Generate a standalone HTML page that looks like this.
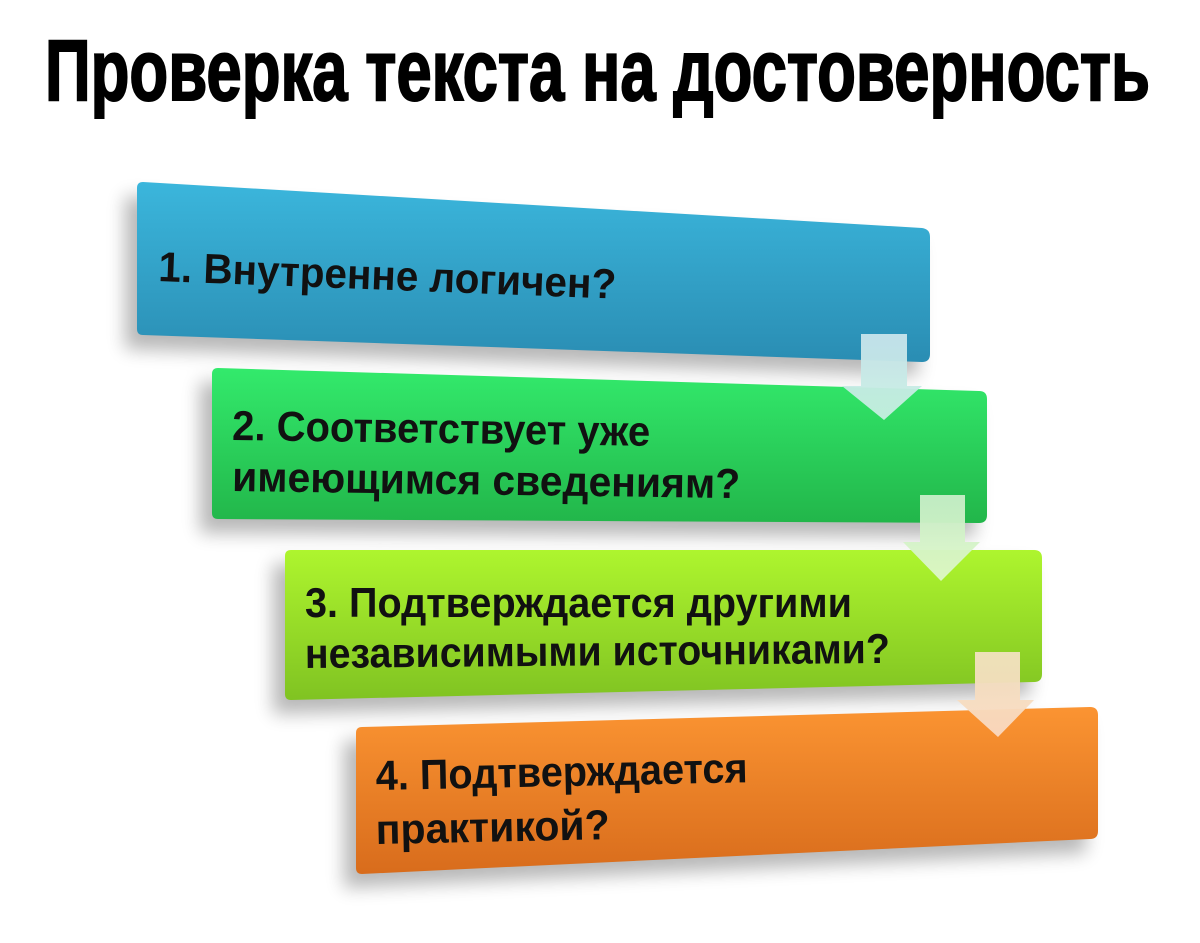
<!DOCTYPE html>
<html><head><meta charset="utf-8"><style>
html,body{margin:0;padding:0;background:#fff;}
svg{display:block;}
text{font-family:"Liberation Sans",sans-serif;font-weight:bold;fill:#111;}
</style></head><body>
<svg width="1200" height="943" viewBox="0 0 1200 943" xmlns="http://www.w3.org/2000/svg">
<defs>
<filter id="sh" x="-20%" y="-30%" width="140%" height="160%"><feGaussianBlur stdDeviation="9"/></filter>
<linearGradient id="g1" x1="0" y1="0" x2="0" y2="1"><stop offset="0" stop-color="#3bb6dc"/><stop offset="1" stop-color="#2a8db3"/></linearGradient>
<linearGradient id="g2" x1="0" y1="0" x2="0" y2="1"><stop offset="0" stop-color="#33ea6c"/><stop offset="1" stop-color="#22b64a"/></linearGradient>
<linearGradient id="g3" x1="0" y1="0" x2="0" y2="1"><stop offset="0" stop-color="#aef52e"/><stop offset="1" stop-color="#80c322"/></linearGradient>
<linearGradient id="g4" x1="0" y1="0" x2="0" y2="1"><stop offset="0" stop-color="#fb9432"/><stop offset="1" stop-color="#d86c1c"/></linearGradient>
<linearGradient id="ga" x1="0" y1="0" x2="0" y2="1"><stop offset="0" stop-color="#c8e4ec"/><stop offset="1" stop-color="#c6efe0"/></linearGradient>
<linearGradient id="gb" x1="0" y1="0" x2="0" y2="1"><stop offset="0" stop-color="#c8eec8"/><stop offset="1" stop-color="#def7c8"/></linearGradient>
<linearGradient id="gc" x1="0" y1="0" x2="0" y2="1"><stop offset="0" stop-color="#f2e2c0"/><stop offset="1" stop-color="#fad8c0"/></linearGradient>
</defs>

<text x="45" y="100" font-size="86" textLength="1105" lengthAdjust="spacingAndGlyphs" style="fill:#000;font-weight:900;stroke:#000;stroke-width:2">Проверка текста на достоверность</text>

<g fill="#000" opacity="0.28" filter="url(#sh)">
<polygon points="125,196 918,242 918,376 125,349"/>
<polygon points="200,382 975,405 975,537 200,533"/>
<polygon points="273,564 1030,564 1030,696 273,714"/>
<polygon points="344,741 1086,721 1086,853 344,888"/>
</g>

<path d="M143,182 L922,228 Q930,229 930,237 L930,354 Q930,362 922,362 L143,335 Q137,335 137,329 L137,188 Q137,182 143,182Z" fill="url(#g1)"/>
<path d="M218,368 L979,391 Q987,391 987,399 L987,515 Q987,523 979,523 L218,519 Q212,519 212,513 L212,374 Q212,368 218,368Z" fill="url(#g2)"/>
<path d="M291,550 L1034,550 Q1042,550 1042,558 L1042,674 Q1042,682 1034,682 L291,700 Q285,700 285,694 L285,556 Q285,550 291,550Z" fill="url(#g3)"/>
<path d="M362,727 L1090,707 Q1098,707 1098,715 L1098,831 Q1098,839 1090,839 L362,874 Q356,874 356,868 L356,733 Q356,727 362,727Z" fill="url(#g4)"/>

<polygon points="861,334 907,334 907,386 922,386 884,420 842,386 861,386" fill="url(#ga)" opacity="0.95"/>
<polygon points="920,495 965,495 965,542 980,542 941,581 903,542 920,542" fill="url(#gb)" opacity="0.95"/>
<polygon points="975,652 1020,652 1020,700 1034,700 998,737 957,700 975,700" fill="url(#gc)" opacity="0.95"/>

<text x="158" y="281" font-size="42" textLength="458" lengthAdjust="spacingAndGlyphs" transform="rotate(2.2 158 281)">1. Внутренне логичен?</text>
<text x="232" y="440" font-size="42" textLength="418" lengthAdjust="spacingAndGlyphs" transform="rotate(0.8 232 440)">2. Соответствует уже</text>
<text x="232" y="491" font-size="42" textLength="508" lengthAdjust="spacingAndGlyphs" transform="rotate(0.8 232 491)">имеющимся сведениям?</text>
<text x="305" y="617" font-size="42" textLength="547" lengthAdjust="spacingAndGlyphs">3. Подтверждается другими</text>
<text x="305" y="668" font-size="42" textLength="585" lengthAdjust="spacingAndGlyphs" transform="rotate(-0.5 305 668)">независимыми источниками?</text>
<text x="376" y="790" font-size="42" textLength="372" lengthAdjust="spacingAndGlyphs" transform="rotate(-1.2 376 790)">4. Подтверждается</text>
<text x="376" y="844" font-size="42" textLength="234" lengthAdjust="spacingAndGlyphs" transform="rotate(-1.2 376 844)">практикой?</text>
</svg>
</body></html>
